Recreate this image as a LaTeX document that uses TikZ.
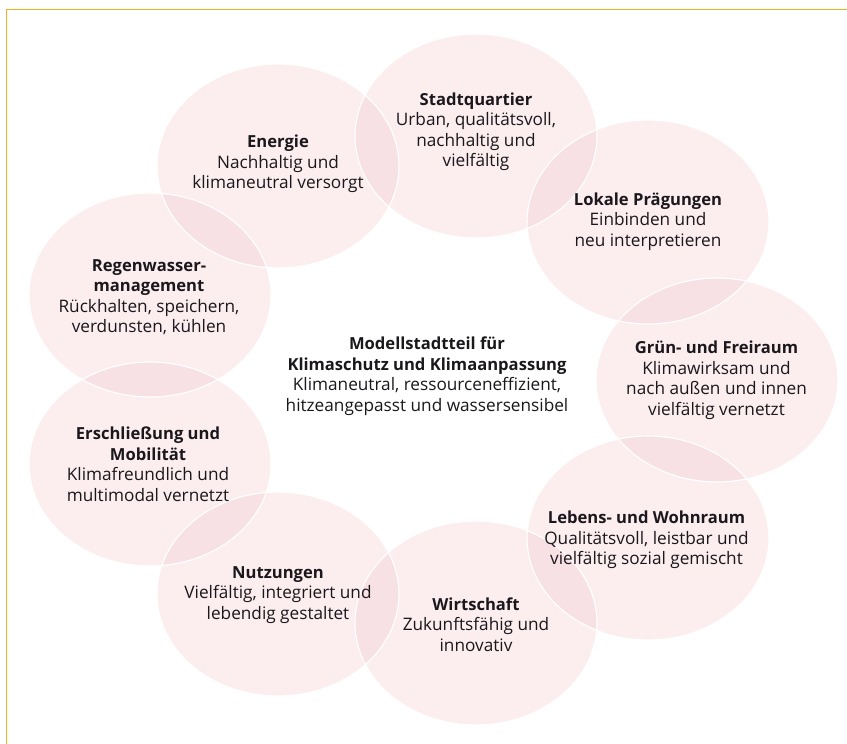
\documentclass[tikz,border=0pt]{standalone}
\usepackage{fontspec}
\setmainfont{Open Sans}
\definecolor{bublight}{RGB}{252,237,239}
\definecolor{bubdark}{RGB}{248,225,229}
\definecolor{framecol}{RGB}{249,174,30}
\definecolor{txtcol}{RGB}{26,24,28}
\newcommand{\hdtxt}[1]{{\fontsize{16.6}{20.5}\selectfont\bfseries #1}}
\begin{document}
\begin{tikzpicture}[x=1pt,y=-1pt,
  ell/.style={x radius=121pt, y radius=102pt},
  lbl/.style={align=center, inner sep=0pt, text=txtcol,
    font=\fontsize{17.2}{20.5}\selectfont}]
\useasboundingbox (0,0) rectangle (847,744);
\fill[white] (0,0) rectangle (847,744);
\draw[framecol, line width=1.6pt] (6.5,744) -- (6.5,9.5) -- (847,9.5);

\coordinate (cE) at (278,166);
\coordinate (cS) at (476,136);
\coordinate (cL) at (648,222);
\coordinate (cG) at (717,380);
\coordinate (cB) at (648,538);
\coordinate (cW) at (476,623);
\coordinate (cN) at (278,594);
\coordinate (cM) at (150,464);
\coordinate (cR) at (150,295);

% base fills
\foreach \c in {cE,cS,cL,cG,cB,cW,cN,cM,cR}
  \fill[bublight] (\c) ellipse [ell];

% overlaps
\foreach \a/\b in {cE/cS,cS/cL,cL/cG,cG/cB,cB/cW,cW/cN,cN/cM,cM/cR,cR/cE}{
  \begin{scope}
    \clip (\a) ellipse [ell];
    \fill[bubdark] (\b) ellipse [ell];
  \end{scope}
}

% white outlines
\foreach \c in {cE,cS,cL,cG,cB,cW,cN,cM,cR}
  \draw[white, line width=1.2pt] (\c) ellipse [ell];

\node[lbl] (tE) at (278,164) {\hdtxt{Energie}\\Nachhaltig und\\klimaneutral versorgt};
\node[lbl] (tS) at (476,132) {\hdtxt{Stadtquartier}\\Urban, qualitätsvoll,\\nachhaltig und\\vielfältig};
\node[lbl] (tL) at (648,221.5) {\hdtxt{Lokale Prägungen}\\Einbinden und\\neu interpretieren};
\node[lbl] (tG) at (716.5,380.5) {\hdtxt{Grün- und Freiraum}\\Klimawirksam und\\nach außen und innen\\vielfältig vernetzt};
\node[lbl] (tB) at (646.5,540) {\hdtxt{Lebens- und Wohnraum}\\Qualitätsvoll, leistbar und\\vielfältig sozial gemischt};
\node[lbl] (tW) at (476,624.5) {\hdtxt{Wirtschaft}\\Zukunftsfähig und\\innovativ};
\node[lbl] (tN) at (278,595) {\hdtxt{Nutzungen}\\Vielfältig, integriert und\\lebendig gestaltet};
\node[lbl] (tM) at (148,464) {\hdtxt{Erschließung und}\\\hdtxt{Mobilität}\\Klimafreundlich und\\multimodal vernetzt};
\node[lbl] (tR) at (149,297) {\hdtxt{Regenwasser-}\\\hdtxt{management}\\Rückhalten, speichern,\\verdunsten, kühlen};
\node[lbl] (tC) at (427,376) {\hdtxt{Modellstadtteil für}\\\hdtxt{Klimaschutz und Klimaanpassung}\\Klimaneutral, ressourceneffizient,\\hitzeangepasst und wassersensibel};
\end{tikzpicture}
\end{document}
